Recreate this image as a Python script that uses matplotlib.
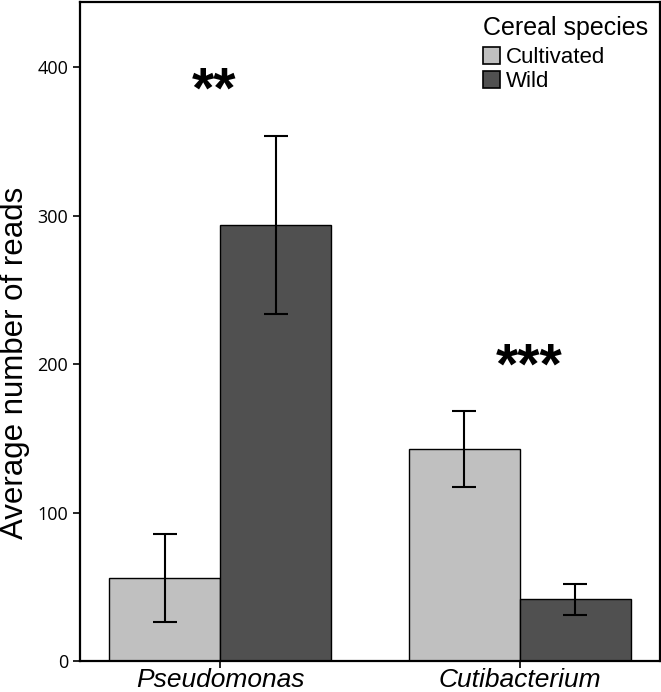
import matplotlib
matplotlib.use("Agg")
import matplotlib.pyplot as plt
import numpy as np
from matplotlib.patches import Patch

# data
genera = ["Pseudomonas", "Cutibacterium"]
cultivated = [56, 143]
cultivated_err = [29.5, 25.5]
wild = [294, 41.5]
wild_err = [60, 10.6]
stars = ["**", "***"]
star_y = [383, 197]
star_x = [-0.02, 1.03]

light = "#c0c0c0"
dark = "#505050"

fig = plt.figure(figsize=(6.61, 6.92), dpi=100)
ax = fig.add_axes([0.121, 0.0448, 0.8775, 0.9523])

x = np.arange(len(genera))
w = 0.37
ax.bar(x - w / 2, cultivated, w, color=light, edgecolor="black", linewidth=1.0, zorder=2)
ax.bar(x + w / 2, wild, w, color=dark, edgecolor="black", linewidth=1.0, zorder=2)
ax.errorbar(x - w / 2, cultivated, yerr=cultivated_err, fmt="none", ecolor="black",
            elinewidth=1.5, capsize=8.3, capthick=1.5, zorder=3)
ax.errorbar(x + w / 2, wild, yerr=wild_err, fmt="none", ecolor="black",
            elinewidth=1.5, capsize=8.3, capthick=1.5, zorder=3)

for sx, sy, s in zip(star_x, star_y, stars):
    ax.text(sx, sy, s, ha="center", va="center", fontsize=41, fontweight="bold",
            family="Liberation Sans")

ax.set_xlim(-0.467, 1.467)
ax.set_ylim(0, 444)
ax.set_yticks([0, 100, 200, 300, 400])
ax.set_xticks(x)
ax.set_xticklabels(genera, fontsize=19, style="italic", family="Liberation Sans")
for lab in ax.get_yticklabels():
    lab.set_fontsize(13)
    lab.set_family("Open Sans")
ax.tick_params(axis="both", direction="out", length=5, width=1.2, color="black")
ax.tick_params(axis="x", pad=0)
ax.set_ylabel("Average number of reads", fontsize=22.5, family="Liberation Sans")
ax.yaxis.set_label_coords(-0.086, 0.452)
for sp in ax.spines.values():
    sp.set_linewidth(1.6)

handles = [Patch(facecolor=light, edgecolor="black", linewidth=1.2, label="Cultivated"),
           Patch(facecolor=dark, edgecolor="black", linewidth=1.2, label="Wild")]
leg = ax.legend(handles=handles, title="Cereal species", loc="upper right",
                bbox_to_anchor=(0.998, 0.996), frameon=False, borderpad=0,
                handlelength=0.8, handleheight=0.8, handletextpad=0.25,
                labelspacing=0.15, prop={"family": "Liberation Sans", "size": 16},
                title_fontproperties={"family": "Liberation Sans", "size": 18})
leg._legend_box.align = "left"
leg._legend_box.sep = 5

fig.savefig("out.png", dpi=100)
